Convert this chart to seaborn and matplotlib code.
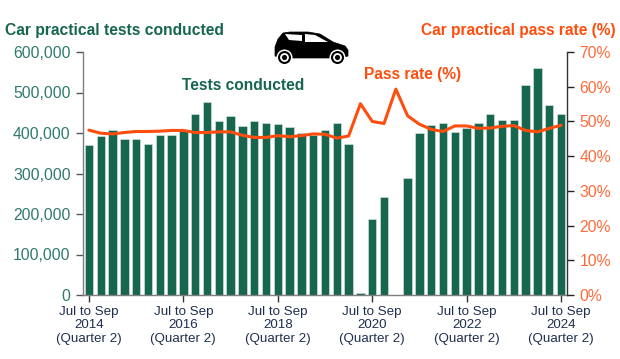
import numpy as np
import pandas as pd
import matplotlib
matplotlib.use("Agg")
import matplotlib.pyplot as plt
from matplotlib.patches import Polygon
from matplotlib.ticker import FuncFormatter
import seaborn as sns

tests = [371000, 393000, 407000, 386000, 384000, 372000, 394000, 396000, 404000, 446000,
         477000, 430000, 441000, 418000, 429000, 425000, 422000, 415000, 400000, 394000,
         407000, 425000, 374000, 5000, 188000, 242000, 1000, 290000, 401000, 420000,
         425000, 403000, 412000, 425000, 446000, 433000, 431000, 518000, 560000, 470000, 448000]
pass_rate = [47.5, 46.6, 46.4, 46.8, 47.1, 47.1, 47.2, 47.4, 47.4, 46.8,
             46.8, 47.0, 47.0, 46.0, 45.4, 45.4, 45.9, 45.6, 45.9, 46.4,
             46.3, 45.2, 45.8, 55.1, 50.0, 49.4, 59.3, 51.6, 49.2, 47.7,
             47.1, 48.7, 48.7, 48.0, 48.1, 48.6, 48.8, 47.4, 47.0, 48.0, 48.9]
tick_pos = [0, 8, 16, 24, 32, 40]
tick_years = [2014, 2016, 2018, 2020, 2022, 2024]

GREEN = "#17664f"
ORANGE = "#ff4d0d"
LEFT_TXT = "#2f7a6c"
RIGHT_TXT = "#ff6a3a"
NAVY = "#1f2f4f"
GREY = "#7f7f7f"

sns.set_theme(style="white")
plt.rcParams["font.family"] = ["Liberation Sans", "DejaVu Sans"]

W, H = 620, 359
fig = plt.figure(figsize=(W / 100, H / 100), dpi=100)
ax = fig.add_axes([83 / W, 1 - 295 / H, 484 / W, 243 / H])

df = pd.DataFrame({"q": np.arange(len(tests)), "tests": tests, "rate": pass_rate})
sns.barplot(data=df, x="q", y="tests", color=GREEN, saturation=1, width=0.71, ax=ax,
            edgecolor="#dfe8e4", linewidth=0.4)
ax.set_xlim(-0.5, 40.5)
ax.set_ylim(0, 600000)
ax.set_xlabel("")
ax.set_ylabel("")
ax.set_xticks(tick_pos)
ax.set_xticklabels([f"Jul to Sep\n{y}\n(Quarter 2)" for y in tick_years],
                   fontsize=9.6, color=NAVY, linespacing=1.14)
ax.yaxis.set_major_formatter(FuncFormatter(lambda v, _: f"{int(v):,}"))
ax.set_yticks(range(0, 600001, 100000))
ax.tick_params(axis="y", labelsize=11.3, labelcolor=LEFT_TXT, color="#555555", length=5, width=1, pad=4, left=True)
ax.tick_params(axis="x", color="#333333", length=5, width=1, pad=3, bottom=True)
for s in ["top", "right"]:
    ax.spines[s].set_visible(False)
for s in ["left", "bottom"]:
    ax.spines[s].set_color(GREY)
    ax.spines[s].set_linewidth(1)

ax2 = ax.twinx()
sns.lineplot(data=df, x="q", y="rate", color=ORANGE, linewidth=2.2, ax=ax2, errorbar=None)
ax2.set_ylim(0, 70)
ax2.set_xlim(-0.5, 40.5)
ax2.set_xlabel("")
ax2.set_ylabel("")
ax2.set_yticks(range(0, 71, 10))
ax2.yaxis.set_major_formatter(FuncFormatter(lambda v, _: f"{int(v)}%"))
ax2.tick_params(axis="y", labelsize=11.3, labelcolor=RIGHT_TXT, color="#222222", length=5, width=1, pad=4, right=True)
for s in ["top", "left", "bottom"]:
    ax2.spines[s].set_visible(False)
ax2.spines["right"].set_color("#333333")
ax2.spines["right"].set_linewidth(1)

def fx(px): return px / W
def fy(py): return 1 - py / H

fig.text(fx(5), fy(30), "Car practical tests conducted", color=GREEN, fontsize=11.25, fontweight="bold", va="center", ha="left")
fig.text(fx(421), fy(30), "Car practical pass rate (%)", color=ORANGE, fontsize=11.2, fontweight="bold", va="center", ha="left")
fig.text(fx(182), fy(86), "Tests conducted", color=GREEN, fontsize=11.2, fontweight="bold", va="center", ha="left")
fig.text(fx(364), fy(74), "Pass rate (%)", color=ORANGE, fontsize=11.2, fontweight="bold", va="center", ha="left")

# car icon
body = [(275, 56), (275, 47), (278, 39), (283, 33), (290, 32), (308, 32), (320, 34), (333, 42),
        (345, 46), (348, 50), (348, 56), (341, 58), (281, 58)]
fig.add_artist(Polygon([(fx(a), fy(b)) for a, b in body], closed=True, transform=fig.transFigure, fc="black", ec="black", lw=0.5))
for win in ([(285, 34), (302, 35), (302, 41), (289, 40)], [(305, 34), (315, 35), (328, 42), (305, 42)]):
    fig.add_artist(Polygon([(fx(a), fy(b)) for a, b in win], closed=True, transform=fig.transFigure, fc="white", ec="none"))
for cx in (283.5, 336.5):
    for r, c in ((8, "white"), (6.5, "black"), (4.4, "white"), (2.6, "black")):
        fig.add_artist(plt.Line2D([fx(cx)], [fy(57)], transform=fig.transFigure, marker="o", ms=r * 2 * 0.72, mfc=c, mec="none", ls="none"))

fig.savefig("out.png", dpi=100, facecolor="white")
